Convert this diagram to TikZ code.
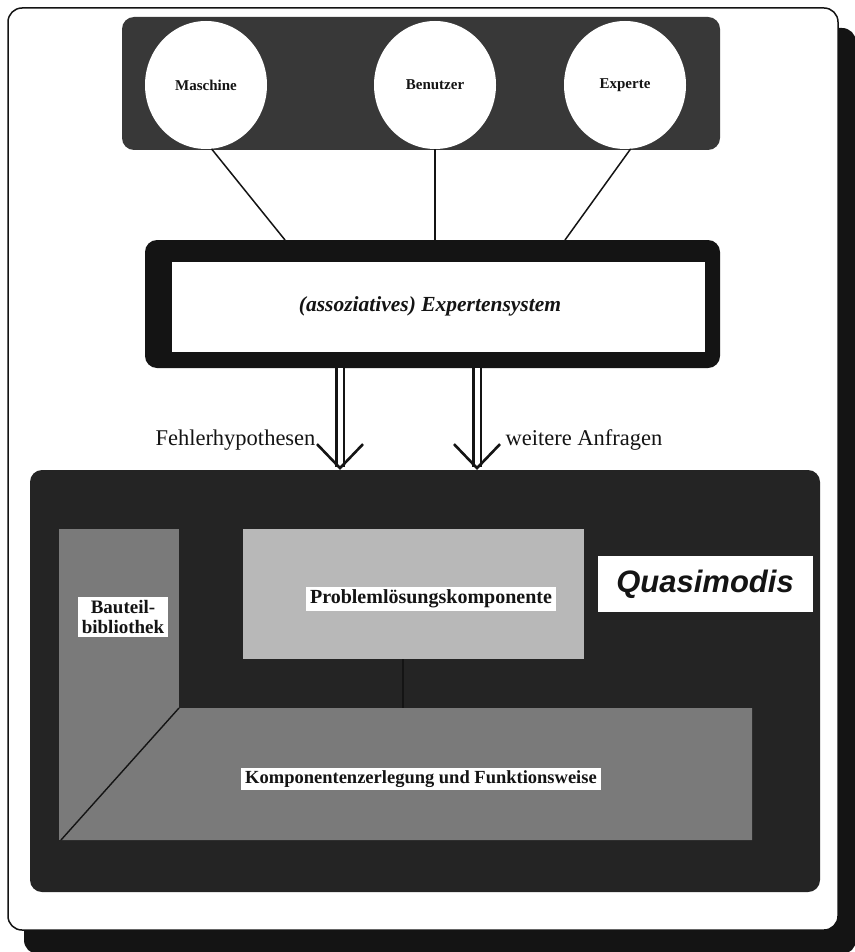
\documentclass[tikz,border=0pt]{standalone}
\usepackage{fontspec}
\setmainfont{Liberation Serif}
\newfontfamily\labelsans{Liberation Sans}
\usetikzlibrary{arrows.meta,shapes.geometric}

\definecolor{ink}{gray}{0.08}
\definecolor{darkstipple}{gray}{0.22}
\definecolor{basefill}{gray}{0.14}
\definecolor{midgray}{gray}{0.48}
\definecolor{lightgray}{gray}{0.72}

\tikzset{
  lbl/.style={fill=white, inner xsep=4pt, inner ysep=3pt, text=ink},
  partner/.style={ellipse, fill=white, minimum width=122pt, minimum height=128pt, inner sep=0pt, font=\bfseries\fontsize{15}{17}\selectfont, text=ink},
  link/.style={line width=1.5pt, draw=ink},
  flow/.style={double=white, double distance=5pt, line width=2.2pt, draw=ink, -{Straight Barb[length=24pt, width=46pt, line width=2.6pt]}},
}

\begin{document}
\begin{tikzpicture}[x=1pt, y=-1pt]
  \useasboundingbox (0,0) rectangle (854,952);
  \fill[white] (0,0) rectangle (854,952);

  % outer frame with drop shadow
  \fill[ink, rounded corners=14pt] (24,28) rectangle (856,954);
  \draw[ink, line width=1.5pt, fill=white, rounded corners=14pt] (8,8) rectangle (838,930);

  % user group
  \fill[darkstipple, rounded corners=12pt] (122,17) rectangle (720,150);
  \node[partner] (maschine) at (206,85) {Maschine};
  \node[partner] (benutzer) at (435,85) {Benutzer};
  \node[partner] (experte)  at (625,85) {Experte};

  % expert system: thick black frame around a white panel
  \node[fill=ink, rounded corners=12pt, minimum width=575pt, minimum height=128pt, inner sep=0pt] (xps) at (432.5,304) {};
  \node[fill=white, minimum width=533pt, minimum height=90pt, inner sep=0pt] (xpsin) at (438.5,307) {};
  \node[font=\bfseries\itshape\fontsize{21.5}{24}\selectfont, text=ink] (xpstext) at (430,306) {(assoziatives) Expertensystem};

  \coordinate (xm) at (285,240);
  \coordinate (xb) at (435,240);
  \coordinate (xe) at (565,240);
  \draw[link] (maschine.-85) -- (xm);
  \draw[link] (benutzer.south) -- (xb);
  \draw[link] (experte.-85) -- (xe);

  % Quasimodis
  \fill[basefill, rounded corners=12pt] (30,470) rectangle (820,892);

  \fill[midgray] (59,529) rectangle (179,840);
  \fill[midgray] (179,708) -- (752,708) -- (752,840) -- (61,840) -- cycle;
  \draw[ink, line width=1.4pt] (179,708) -- (61,840);
  \fill[lightgray] (243,529) rectangle (584,659);

  \node[lbl, font=\bfseries\fontsize{19}{20}\selectfont, align=center] (bib) at (123,617) {Bauteil-\\bibliothek};
  \node[lbl, font=\bfseries\fontsize{20}{22}\selectfont] (plk) at (431,599) {Problemlösungskomponente};
  \node[lbl, font=\bfseries\fontsize{18.5}{20}\selectfont] (kzf) at (421,779) {Komponentenzerlegung und Funktionsweise};
  \node[fill=white, minimum width=215pt, minimum height=56pt, inner sep=0pt,
        font=\labelsans\bfseries\itshape\fontsize{31}{33}\selectfont, text=ink] (quasi) at (705,584) {Quasimodis};

  \coordinate (plkbot) at (403,659);
  \coordinate (kzftop) at (403,708);
  \draw[ink, line width=1.4pt] (plkbot) -- (kzftop);

  % outputs of the expert system
  \coordinate (f1) at (340,368);
  \coordinate (f1e) at (340,470);
  \coordinate (f2) at (477,368);
  \coordinate (f2e) at (477,470);
  \draw[flow] (f1) -- (f1e);
  \draw[flow] (f2) -- (f2e);
  \node[anchor=east, font=\fontsize{22.5}{25}\selectfont, text=ink] (fh) at (319,440) {Fehlerhypothesen};
  \node[anchor=west, font=\fontsize{22.5}{25}\selectfont, text=ink] (wa) at (502,440) {weitere Anfragen};
\end{tikzpicture}
\end{document}
